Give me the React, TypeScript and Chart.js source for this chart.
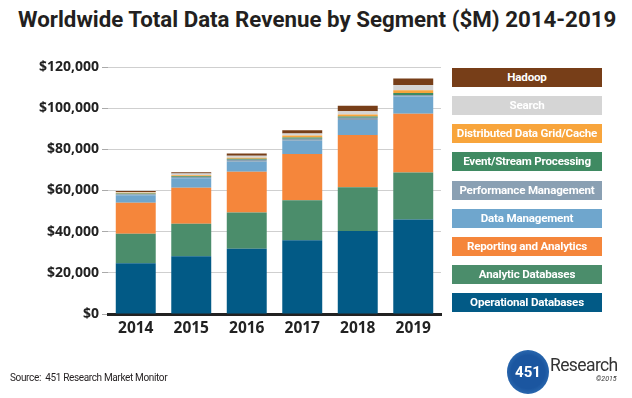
import React, { useEffect, useRef } from "react";
import { Chart, registerables } from "chart.js";

Chart.register(...registerables);

const years = ["2014", "2015", "2016", "2017", "2018", "2019"];
const operational = [24700, 28000, 31700, 35800, 40300, 45900];
const analytic = [14300, 15900, 17600, 19500, 21300, 22900];
const reporting = [15000, 17400, 19800, 22400, 25400, 28500];
const dataMgmt = [3700, 4600, 4900, 6500, 7300, 8400];
const perfMgmt = [500, 650, 900, 1000, 1000, 700];
const eventStream = [300, 350, 500, 500, 650, 1000];
const dataGrid = [400, 500, 500, 1000, 1000, 1300];
const search = [400, 800, 1000, 1000, 1600, 2600];
const hadoop = [500, 650, 1100, 1600, 2600, 3100];

const seriesNames = [
  "Operational Databases",
  "Analytic Databases",
  "Reporting and Analytics",
  "Data Management",
  "Performance Management",
  "Event/Stream Processing",
  "Distributed Data Grid/Cache",
  "Search",
  "Hadoop",
];
const seriesColors = [
  "#025a86",
  "#4b8d6b",
  "#f5863b",
  "#6fa6cd",
  "#8aa0b3",
  "#3f8a62",
  "#f8a53c",
  "#d5d5d5",
  "#773e18",
];
const seriesValues = [
  operational,
  analytic,
  reporting,
  dataMgmt,
  perfMgmt,
  eventStream,
  dataGrid,
  search,
  hadoop,
];

const yTicks = [0, 20000, 40000, 60000, 80000, 100000, 120000];

export default function App() {
  const ref = useRef<HTMLCanvasElement | null>(null);

  useEffect(() => {
    const canvas = ref.current;
    if (!canvas) return;
    const chart = new Chart(canvas, {
      type: "bar",
      data: {
        labels: years,
        datasets: seriesNames.map((name, i) => ({
          label: name,
          data: seriesValues[i],
          backgroundColor: seriesColors[i],
          borderWidth: 0,
          categoryPercentage: 1,
          barPercentage: 0.72,
        })),
      },
      options: {
        animation: false,
        responsive: false,
        maintainAspectRatio: false,
        layout: { padding: { left: 0, top: 67, right: 191, bottom: 54 } },
        plugins: { legend: { display: false }, tooltip: { enabled: false } },
        scales: {
          x: {
            stacked: true,
            grid: { display: false, drawTicks: false },
            border: { display: true, color: "#222", width: 3 },
            ticks: {
              color: "#222",
              padding: 5,
              font: { family: "'Open Sans'", size: 15.5, weight: "bold" },
            },
            afterFit: (s: any) => {
              s.height = 30;
            },
          },
          y: {
            stacked: true,
            min: 0,
            max: 120000,
            afterBuildTicks: (s: any) => {
              s.ticks = yTicks.map((v) => ({ value: v }));
            },
            grid: { color: "#cfcfcf", tickLength: 6, tickColor: "#aaa" },
            border: { display: false },
            ticks: {
              color: "#222",
              padding: 3,
              font: { family: "'Open Sans'", size: 14, weight: "bold" },
              callback: (v: any) => "$" + Number(v).toLocaleString("en-US"),
            },
            afterFit: (s: any) => {
              s.width = 108;
            },
          },
        },
      },
    });
    return () => chart.destroy();
  }, []);

  const legendOrder = [8, 7, 6, 5, 4, 3, 2, 1, 0];

  return (
    <div
      style={{
        position: "absolute",
        left: 0,
        top: 0,
        width: 632,
        height: 398,
        background: "#fff",
        overflow: "hidden",
        fontFamily: "'Open Sans', sans-serif",
      }}
    >
      <div
        style={{
          position: "absolute",
          left: 18,
          top: 6,
          fontSize: 22.3,
          fontWeight: 700,
          color: "#231f20",
          whiteSpace: "nowrap",
          fontFamily: "Roboto, sans-serif",
          lineHeight: "26px",
        }}
      >
        Worldwide Total Data Revenue by Segment ($M) 2014-2019
      </div>
      <canvas
        ref={ref}
        width={632}
        height={398}
        style={{ position: "absolute", left: 0, top: 0, width: 632, height: 398 }}
      />
      {legendOrder.map((idx, k) => (
        <div
          key={idx}
          style={{
            position: "absolute",
            left: 452,
            top: 67.7 + k * 28.2,
            width: 150,
            height: 19,
            background: seriesColors[idx],
            color: "#fff",
            fontFamily: "Roboto, sans-serif",
            fontWeight: 700,
            fontSize: 11.6,
            lineHeight: "19px",
            textAlign: "center",
            whiteSpace: "nowrap",
            letterSpacing: -0.2,
          }}
        >
          {seriesNames[idx]}
        </div>
      ))}
      <div
        style={{
          position: "absolute",
          left: 10,
          top: 371,
          fontSize: 10,
          color: "#231f20",
          fontFamily: "Roboto, sans-serif",
          whiteSpace: "nowrap",
          lineHeight: "14px",
          letterSpacing: -0.35,
        }}
      >
        Source:&nbsp; 451 Research Market Monitor
      </div>
      <div
        style={{
          position: "absolute",
          left: 507,
          top: 350,
          width: 42,
          height: 44,
          borderRadius: "50%",
          background: "radial-gradient(circle at 50% 50%, #1b56a0 55%, #3f82c4 100%)",
          color: "#fff",
          fontFamily: "Roboto, sans-serif",
          fontWeight: 700,
          fontSize: 15,
          lineHeight: "44px",
          textAlign: "center",
        }}
      >
        451
      </div>
      <div
        style={{
          position: "absolute",
          left: 550,
          top: 355,
          fontSize: 17.5,
          color: "#333",
          fontFamily: "Roboto, sans-serif",
          whiteSpace: "nowrap",
          lineHeight: "20px",
          letterSpacing: -0.6,
        }}
      >
        Research
      </div>
      <div
        style={{
          position: "absolute",
          left: 596,
          top: 375,
          fontSize: 7,
          fontStyle: "italic",
          color: "#333",
          fontFamily: "Roboto, sans-serif",
          whiteSpace: "nowrap",
          lineHeight: "9px",
        }}
      >
        ©2015
      </div>
    </div>
  );
}
